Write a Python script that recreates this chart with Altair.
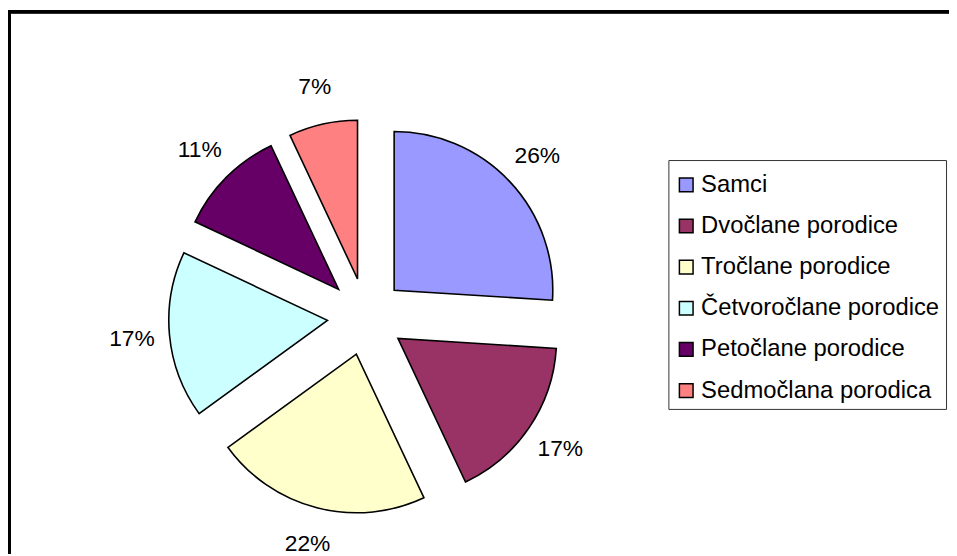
import altair as alt
import pandas as pd

categories = ["Samci", "Dvočlane porodice", "Tročlane porodice",
              "Četvoročlane porodice", "Petočlane porodice", "Sedmočlana porodica"]
values = [26, 17, 22, 17, 11, 7]
colors = ["#9999FF", "#993366", "#FFFFCC", "#CCFFFF", "#660066", "#FF8080"]

df = pd.DataFrame({"category": categories, "value": values, "order": list(range(len(values)))})

W, H = 949, 548
CX, CY = 361, 309      # pie centre (layout)
EXPLODE = 39           # explosion distance
R = 160                # pie radius
LR = 198               # label distance from slice apex

base = alt.Chart(df).transform_joinaggregate(
    total="sum(value)"
).transform_window(
    cum="sum(value)", sort=[alt.SortField("order")]
).transform_calculate(
    a0="2*PI*(datum.cum - datum.value)/datum.total",
    a1="2*PI*datum.cum/datum.total",
).transform_calculate(
    mid="(datum.a0 + datum.a1)/2"
).transform_calculate(
    px=f"{CX} + {EXPLODE}*sin(datum.mid)",
    py=f"{CY} - {EXPLODE}*cos(datum.mid)",
).transform_calculate(
    lx=f"datum.px + {LR}*sin(datum.mid)",
    ly=f"datum.py - {LR}*cos(datum.mid)",
    label="format(datum.value/datum.total, '.0%')",
)

arcs = base.mark_arc(outerRadius=R, stroke="black", strokeWidth=1.6, strokeJoin="miter").encode(
    theta=alt.Theta("a0:Q", scale=None),
    theta2="a1:Q",
    x=alt.X("px:Q", scale=None, axis=None),
    y=alt.Y("py:Q", scale=None, axis=None),
    color=alt.Color(
        "category:N",
        scale=alt.Scale(domain=categories, range=colors),
        sort=categories,
        legend=alt.Legend(
            title=" ", titleFontSize=1, titlePadding=6,
            orient="none", legendX=666, legendY=151,
            symbolType="square", symbolSize=190, symbolStrokeColor="black",
            symbolStrokeWidth=1.5, labelFontSize=24, labelFont="Liberation Sans",
            labelColor="black", rowPadding=17.5, labelOffset=3, padding=6,
            strokeColor="#333333", labelLimit=400,
        ),
    ),
)

labels = base.mark_text(font="Liberation Sans", fontSize=23, color="black",
                        align="center", baseline="middle").encode(
    x=alt.X("lx:Q", scale=None, axis=None),
    y=alt.Y("ly:Q", scale=None, axis=None),
    text="label:N",
)

top_border = alt.Chart(df).mark_rule(color="black", strokeWidth=3).encode(
    x=alt.value(0), x2=alt.value(W), y=alt.value(1.5)
)
left_border = alt.Chart(df).mark_rule(color="black", strokeWidth=3).encode(
    x=alt.value(1.5), y=alt.value(0), y2=alt.value(H)
)

chart = alt.layer(top_border, left_border, arcs, labels).properties(
    width=W, height=H, padding=0, autosize=alt.AutoSizeParams(type="none")
).configure_view(stroke=None)

chart.save("out.html", embed_options={"renderer": "svg", "actions": False})
